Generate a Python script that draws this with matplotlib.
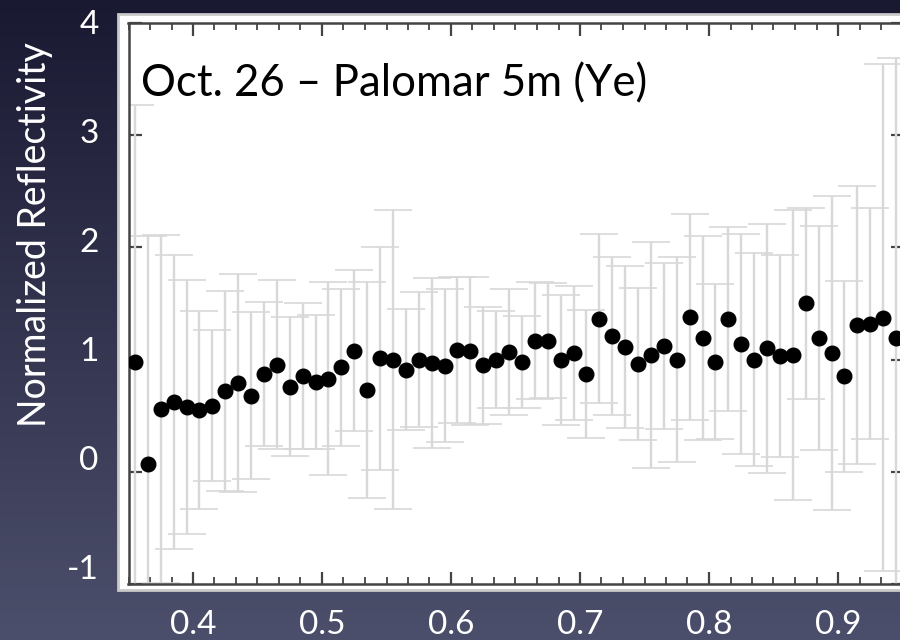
import numpy as np
import matplotlib
matplotlib.use("Agg")
from matplotlib import pyplot as plt
from matplotlib.patches import Rectangle
from matplotlib.ticker import AutoMinorLocator

plt.rcParams['font.family'] = ['Lato', 'DejaVu Sans']

# wavelength (microns) and normalized reflectivity
wavelength = [0.355, 0.365, 0.375, 0.385, 0.395, 0.405, 0.415, 0.425, 0.435, 0.445,
              0.455, 0.465, 0.475, 0.485, 0.495, 0.505, 0.515, 0.525, 0.535, 0.545,
              0.555, 0.565, 0.575, 0.585, 0.595, 0.605, 0.615, 0.625, 0.635, 0.645,
              0.655, 0.665, 0.675, 0.685, 0.695, 0.705, 0.715, 0.725, 0.735, 0.745,
              0.755, 0.765, 0.775, 0.785, 0.795, 0.805, 0.815, 0.825, 0.835, 0.845,
              0.855, 0.865, 0.875, 0.885, 0.895, 0.905, 0.915, 0.925, 0.935, 0.945]
reflect = [0.98, 0.07, 0.56, 0.62, 0.58, 0.55, 0.59, 0.72, 0.79, 0.68,
           0.87, 0.955, 0.76, 0.85, 0.80, 0.83, 0.93, 1.08, 0.73, 1.01,
           1.00, 0.91, 1.00, 0.97, 0.945, 1.085, 1.075, 0.95, 1.00, 1.07,
           0.975, 1.17, 1.17, 1.00, 1.06, 0.87, 1.365, 1.21, 1.11, 0.96,
           1.04, 1.12, 1.00, 1.38, 1.19, 0.98, 1.365, 1.135, 1.00, 1.10,
           1.03, 1.04, 1.50, 1.19, 1.06, 0.85, 1.31, 1.32, 1.375, 1.19]
err = [2.29, 2.03, 1.55, 1.31, 1.13, 0.88, 0.67, 0.89, 0.97, 0.74,
       0.64, 0.75, 0.62, 0.65, 0.60, 0.86, 0.70, 0.72, 0.96, 0.99,
       1.33, 0.54, 0.60, 0.76, 0.68, 0.65, 0.66, 0.52, 0.43, 0.56,
       0.41, 0.52, 0.51, 0.58, 0.60, 0.57, 0.75, 0.70, 0.72, 0.68,
       1.01, 0.74, 0.91, 0.92, 0.91, 0.69, 0.82, 0.98, 0.95, 1.11,
       0.90, 1.29, 0.85, 1.00, 1.40, 0.85, 1.24, 1.03, 2.26, 2.50]

xticks = [0.4, 0.5, 0.6, 0.7, 0.8, 0.9]
xtick_labels = ['0.4', '0.5', '0.6', '0.7', '0.8', '0.9']
yticks = [-1, 0, 1, 2, 3, 4]
ytick_labels = ['-1', '0', '1', '2', '3', '4']

W, H = 900, 640
fig = plt.figure(figsize=(9, 6.4), dpi=100)

# slide background gradient + white chart frame
bg = fig.add_axes([0, 0, 1, 1], zorder=-10)
grad = np.linspace(0, 1, 256).reshape(-1, 1)
cmap = matplotlib.colors.LinearSegmentedColormap.from_list('slide', ['#1a1932', '#4c4f6b'])
bg.imshow(grad, aspect='auto', cmap=cmap, extent=[0, 1, 0, 1], origin='upper')
bg.add_patch(Rectangle((118 / W, 1 - 590 / H), 1.0, (590 - 14) / H,
                       transform=bg.transAxes, facecolor='white',
                       edgecolor='#c9c9c9', lw=2))
bg.set_xlim(0, 1)
bg.set_ylim(0, 1)
bg.axis('off')

# the chart itself
ax = fig.add_axes([128.5 / W, 1 - 584 / H, 774 / W, 561 / H])
ax.set_facecolor('white')
ax.errorbar(wavelength, reflect, yerr=err, fmt='none', ecolor='#d8d8d8',
            elinewidth=1.7, capsize=14, capthick=1.2, zorder=2)
ax.plot(wavelength, reflect, 'o', color='black', markersize=10.5, zorder=3)
ax.set_xlim(0.35, 0.95)
ax.set_ylim(-1, 4)

for s in ax.spines.values():
    s.set_color('#444444')
    s.set_linewidth(1.8)

ax.set_xticks(xticks)
ax.set_xticklabels(xtick_labels)
ax.xaxis.set_minor_locator(AutoMinorLocator(6))
ax.set_yticks(yticks)
ax.tick_params(axis='x', which='both', direction='in', top=True, bottom=True,
               colors='#444444', labelcolor='white', labelsize=24, pad=19)
ax.tick_params(axis='x', which='major', length=9, width=1.6)
ax.tick_params(axis='x', which='minor', length=5, width=1.3)
ax.tick_params(axis='y', which='major', direction='in', left=True, right=True,
               length=9, width=1.6, colors='#444444', labelleft=False)

ax.text(141 / W, 1 - 84 / H, 'Oct. 26 \u2013 Palomar 5m (Ye)', transform=fig.transFigure,
        fontsize=31.5, color='black', ha='left', va='center')

# y labels sit on the slide, slightly offset from the chart's own ticks
lab = fig.add_axes([118 / W, 1 - 567 / H, 0.001, 545 / H])
lab.set_ylim(-1, 4)
lab.set_yticks(yticks)
lab.set_yticklabels(ytick_labels)
lab.tick_params(axis='y', length=0, labelcolor='white', labelsize=24, pad=14)
lab.set_xticks([])
lab.patch.set_visible(False)
for s in lab.spines.values():
    s.set_visible(False)

fig.text(35 / W, 1 - 235 / H, 'Normalized Reflectivity', rotation=90, color='white',
         fontsize=27, ha='center', va='center')

fig.savefig('out.png', dpi=100)
